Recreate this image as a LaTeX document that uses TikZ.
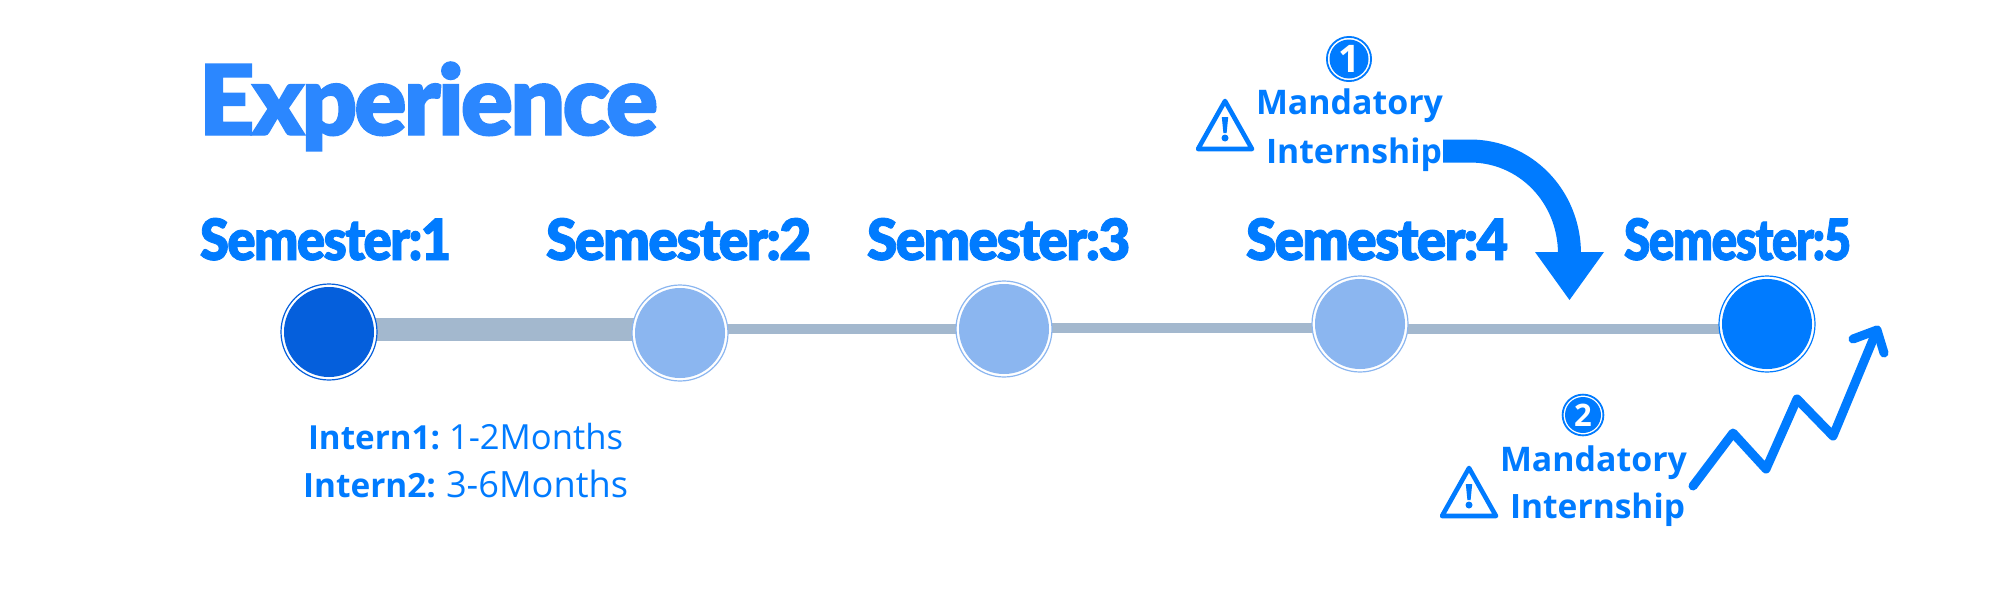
\documentclass[tikz,border=0pt]{standalone}
\usepackage{fontspec}
\usetikzlibrary{backgrounds}
\setmainfont{Open Sans}
\newfontfamily\heavy[LetterSpace=-3,FakeBold=1.5]{Lato Black}
\definecolor{mainblue}{HTML}{007BFF}
\definecolor{titleblue}{HTML}{2B87FF}
\definecolor{firstblue}{HTML}{055FDC}
\definecolor{paleblue}{HTML}{8BB6F0}
\definecolor{linegrey}{HTML}{A3B8CE}
\newcommand{\fitbox}[3]{\resizebox{#1pt}{#2pt}{#3}}
\newcommand{\fitw}[2]{\resizebox{#1pt}{!}{#2}}
\tikzset{
  x=1pt,y=-1pt,
  txt/.style={inner sep=0pt,outer sep=0pt,anchor=base west,text=mainblue},
  dotnode/.style={circle,minimum size=96pt,inner sep=0pt,fill=white,draw=#1,line width=1.2pt},
  bar/.style={draw=linegrey,line width=#1},
  warn/.style={draw=mainblue,line width=4.6pt,line join=round},
  numdisc/.style={circle,fill=mainblue,inner sep=0pt,text=white},
  zig/.style={draw=mainblue,line width=9pt,line cap=round,line join=round},
}
\newcommand{\warning}[2]{%
  \draw[warn] (#1,#2) -- (#1-27,#2+48) -- (#1+27,#2+48) -- cycle;
  \fill[mainblue] (#1-3.2,#2+16) -- (#1+3.2,#2+16) -- (#1+1.6,#2+32) -- (#1-1.6,#2+32) -- cycle;
  \fill[mainblue] (#1,#2+37) circle (3.5);
}
\begin{document}
\begin{tikzpicture}
\useasboundingbox (0,0) rectangle (2000,600);

% timeline nodes
\node[dotnode=firstblue] (c1) at (329,332) {};
\node[dotnode=paleblue] (c2) at (680,333) {};
\node[dotnode=paleblue] (c3) at (1004,329) {};
\node[dotnode=paleblue] (c4) at (1360,324) {};
\node[dotnode=mainblue] (c5) at (1767,324) {};
\fill[firstblue] (c1) circle (45);
\fill[paleblue] (c2) circle (45);
\fill[paleblue] (c3) circle (45);
\fill[paleblue] (c4) circle (45);
\fill[mainblue] (c5) circle (45);
\coordinate (r1) at (0,329.5);
\coordinate (r2) at (0,329);
\coordinate (r3) at (0,328);
\begin{scope}[on background layer]
\fill[white] (0,0) rectangle (2000,600);
\draw[bar=23pt] (c1 |- r1) -- (c2 |- r1);
\draw[bar=10pt] (c2 |- r2) -- (c3 |- r2);
\draw[bar=10pt] (c3 |- r3) -- (c4 |- r3);
\draw[bar=10pt] (c4 |- r2) -- (c5 |- r2);
\end{scope}

% title
\node[txt,text=titleblue] (title) at (199,135) {\fitbox{459}{73}{\heavy Experience}};

% semesters
\node[txt] (s1) at (200,260) {\fitbox{251}{42}{\heavy Semester:1}};
\node[txt] (s2) at (546,260) {\fitbox{265}{42}{\heavy Semester:2}};
\node[txt] (s3) at (867,260) {\fitbox{263}{42}{\heavy Semester:3}};
\node[txt] (s4) at (1246,260) {\fitbox{262}{42}{\heavy Semester:4}};
\node[txt] (s5) at (1624,260) {\fitbox{227}{42}{\heavy Semester:5}};

% intern text
\node[txt] (i1a) at (308,449) {\fitw{132}{\bfseries\fontsize{36}{36}\selectfont Intern1:}};
\node[txt] (i1b) at (449,449) {\fitw{174}{\fontsize{36}{36}\selectfont 1-2Months}};
\node[txt] (i2a) at (303,497) {\fitw{133}{\bfseries\fontsize{36}{36}\selectfont Intern2:}};
\node[txt] (i2b) at (446,497) {\fitw{182}{\fontsize{36}{36}\selectfont 3-6Months}};

% mandatory 1
\node[numdisc,minimum size=39pt,font=\fontsize{38}{38}\selectfont\bfseries] (n1) at (1349,59) {1};
\draw[mainblue,line width=1.8pt] (n1) circle (22.1);
\node[txt] (m1) at (1256,114) {\fitw{187}{\bfseries\fontsize{36}{36}\selectfont Mandatory}};
\node[txt] (t1) at (1266,163) {\fitw{176}{\bfseries\fontsize{36}{36}\selectfont Internship}};
\warning{1225}{101}
% big arrow
\coordinate (a1) at (1443,151);
\coordinate (a2) at (1569.5,254);
\draw[mainblue,line width=23pt] (a1) -- (1470,151) .. controls (1525,151) and (1569.5,196) .. (a2);
\fill[mainblue] (1535,252) -- (1604,252) -- (1569.5,300) -- cycle;

% mandatory 2
\node[numdisc,minimum size=36pt,font=\fontsize{31}{31}\selectfont\bfseries] (n2) at (1583,415) {2};
\draw[mainblue,line width=1.8pt] (n2) circle (20.4);
\node[txt] (m2) at (1500,471) {\fitw{187}{\bfseries\fontsize{36}{36}\selectfont Mandatory}};
\node[txt] (t2) at (1510,518) {\fitw{175}{\bfseries\fontsize{36}{36}\selectfont Internship}};
\warning{1469}{468}

% zigzag
\draw[zig] (1693,486) -- (1733,433) -- (1766,469) -- (1797,399) -- (1833,436) -- (1877,330);
\draw[zig] (1853,339) -- (1877,330) -- (1884,353);
\end{tikzpicture}
\end{document}
